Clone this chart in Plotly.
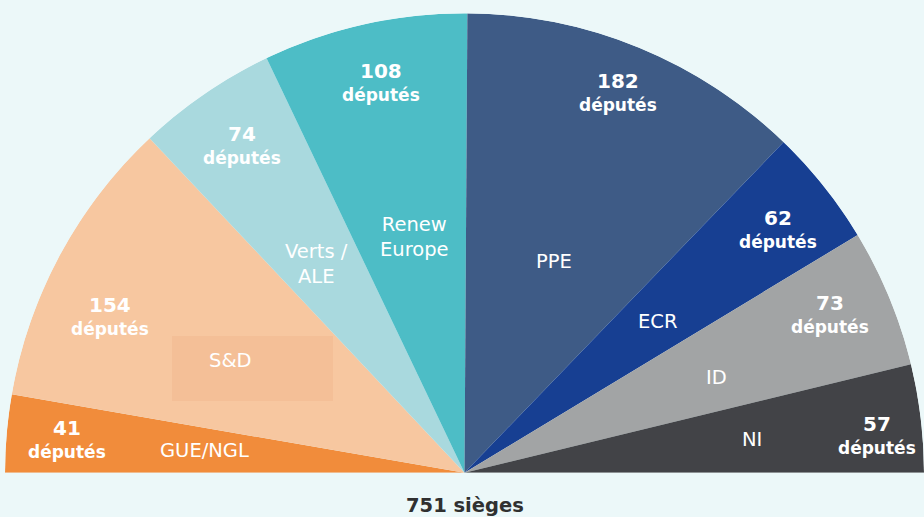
import plotly.graph_objects as go

# ---------------- data ----------------
parties = ["GUE/NGL", "S&D", "Verts /<br>ALE", "Renew<br>Europe", "PPE", "ECR", "ID", "NI"]
seats = [41, 154, 74, 108, 182, 62, 73, 57]
colors = ["#f18c3b", "#f7c7a0", "#a9d9de", "#4dbdc6", "#3e5b86", "#173f92", "#a2a4a5", "#424347"]
unit_label = "députés"
total_suffix = "sièges"

# ---------------- layout helpers ----------------
W, H = 924, 517
ML, MR, MT, MB = 5, 0, 12, 43
PW, PH = W - ML - MR, H - MT - MB
BG = "#ecf8f9"


def px(x):
    return (x - ML) / PW


def py(y):
    return (H - MB - y) / PH


# label positions in pixels (number block centre, party name centre)
num_pos = [(67, 428), (110, 305), (242, 134), (381, 71), (618, 81), (778, 218), (830, 303), (877, 424)]
name_pos = [(204, 450), (230, 360), (316, 264), (414, 237), (554, 261), (658, 321), (716, 378), (752, 439)]

total = sum(seats)
theta, width = [], []
cum = 0
for v in seats:
    width.append(v / total * 180)
    theta.append((cum + v / 2) / total * 180)
    cum += v

fig = go.Figure(
    go.Barpolar(
        r=[1] * len(seats),
        theta=theta,
        width=width,
        base=0,
        marker=dict(color=colors, line=dict(width=0)),
        hoverinfo="skip",
        showlegend=False,
    )
)

fig.update_layout(
    width=W,
    height=H,
    margin=dict(l=ML, r=MR, t=MT, b=MB, pad=0),
    paper_bgcolor=BG,
    plot_bgcolor=BG,
    polar=dict(
        sector=[0, 180],
        hole=0,
        bargap=0,
        barmode="overlay",
        bgcolor="rgba(0,0,0,0)",
        domain=dict(x=[0, 1], y=[0, 1]),
        radialaxis=dict(visible=False, range=[0, 1], showgrid=False),
        angularaxis=dict(visible=False, rotation=180, direction="clockwise", showgrid=False),
    ),
    showlegend=False,
)

# artefact box behind S&D label
fig.add_shape(type="rect", xref="paper", yref="paper",
              x0=px(172), x1=px(333), y0=py(401), y1=py(336),
              fillcolor="#f4bf97", line=dict(width=0), layer="above")

annotations = []
for i, v in enumerate(seats):
    nx, ny = num_pos[i]
    annotations.append(dict(x=px(nx), y=py(ny), xref="paper", yref="paper", text=f"<b>{v}</b>",
                            showarrow=False, xanchor="center", yanchor="middle",
                            font=dict(family="DejaVu Sans", size=20, color="white")))
    annotations.append(dict(x=px(nx), y=py(ny + 24), xref="paper", yref="paper", text=f"<b>{unit_label}</b>",
                            showarrow=False, xanchor="center", yanchor="middle",
                            font=dict(family="DejaVu Sans", size=17, color="white")))
    mx, my = name_pos[i]
    annotations.append(dict(x=px(mx), y=py(my), xref="paper", yref="paper", text=parties[i],
                            showarrow=False, xanchor="center", yanchor="middle", align="center",
                            font=dict(family="DejaVu Sans", size=19.5, color="white")))

annotations.append(dict(x=px(465), y=py(505), xref="paper", yref="paper",
                        text=f"<b>{total} {total_suffix}</b>", showarrow=False,
                        xanchor="center", yanchor="middle",
                        font=dict(family="DejaVu Sans", size=19.5, color="#303030")))

fig.update_layout(annotations=annotations)

fig.write_html(
    "out.html",
    config={"displayModeBar": False},
    post_script=f"document.body.style.margin='0';document.body.style.background='{BG}';",
)
